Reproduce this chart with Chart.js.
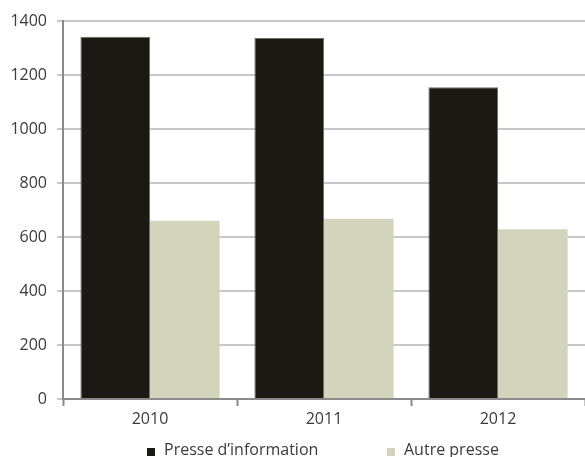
<!DOCTYPE html>
<html>
<head>
<meta charset="utf-8">
<script src="https://cdn.jsdelivr.net/npm/chart.js@4"></script>
<style>
  html, body { margin: 0; padding: 0; background: #fff; overflow: hidden; }
  #wrap { position: relative; width: 585px; height: 457px; }
  #legende span { position: absolute; }
  .boite { width: 8px; height: 8px; top: 448px; }
  .libelle { top: 439px; font: 16px/20px "Open Sans", "Noto Sans", sans-serif; color: #3a3a3a; white-space: nowrap; }
</style>
</head>
<body>
<div id="wrap">
  <canvas id="chart" width="585" height="457"></canvas>
  <div id="legende"></div>
</div>
<script>
// Données
const annees = ['2010', '2011', '2012'];
const presseInformation = [1342, 1337, 1155];
const autrePresse = [660, 668, 629];
const ticksY = [0, 200, 400, 600, 800, 1000, 1200, 1400];

const couleurNoir = '#1a1a12';
const couleurBeige = '#d4d3bb';
const texte = '#3a3a3a';
const police = { family: '"Open Sans", "Noto Sans", sans-serif', size: 16 };

const ctx = document.getElementById('chart').getContext('2d');
const chart = new Chart(ctx, {
    type: 'bar',
    data: {
        labels: annees,
        datasets: [{
            label: 'Presse d’information',
            data: presseInformation,
            backgroundColor: couleurNoir,
            borderColor: '#6e6e66',
            borderWidth: 1,
            categoryPercentage: 0.8,
            barPercentage: 1.0
        }, {
            label: 'Autre presse',
            data: autrePresse,
            backgroundColor: couleurBeige,
            borderWidth: 0,
            categoryPercentage: 0.8,
            barPercentage: 1.0
        }]
    },
    options: {
        responsive: false,
        animation: false,
        layout: { padding: { top: 21, right: 0, left: 0, bottom: 0 } },
        plugins: {
            tooltip: { enabled: false },
            legend: { display: false }
        },
        scales: {
            x: {
                offset: true,
                grid: {
                    offset: true,
                    drawOnChartArea: false,
                    drawTicks: true,
                    tickLength: 7,
                    tickWidth: 2,
                    tickColor: '#8a8a8a'
                },
                border: { color: '#8a8a8a', width: 2 },
                ticks: { padding: 4, color: texte, font: police },
                afterFit: axis => { axis.height = 58; }
            },
            y: {
                min: 0,
                max: 1400,
                afterBuildTicks: axis => { axis.ticks = ticksY.map(v => ({ value: v })); },
                afterFit: axis => { axis.width = 63; },
                grid: {
                    color: '#c8c8c8',
                    lineWidth: 2,
                    tickLength: 6,
                    tickColor: '#c8c8c8'
                },
                border: { color: '#8a8a8a', width: 2 },
                ticks: {
                    padding: 10,
                    color: texte,
                    font: police,
                    callback: v => String(v)
                }
            }
        }
    }
});

// Légende en HTML, construite à partir des jeux de données du graphique
const positionsLegende = [147, 387];
const legende = document.getElementById('legende');
chart.data.datasets.forEach((ds, i) => {
    const boite = document.createElement('span');
    boite.className = 'boite';
    boite.style.left = positionsLegende[i] + 'px';
    boite.style.background = ds.backgroundColor;
    const libelle = document.createElement('span');
    libelle.className = 'libelle';
    libelle.style.left = (positionsLegende[i] + 17) + 'px';
    libelle.textContent = ds.label;
    legende.appendChild(boite);
    legende.appendChild(libelle);
});
</script>
</body>
</html>
